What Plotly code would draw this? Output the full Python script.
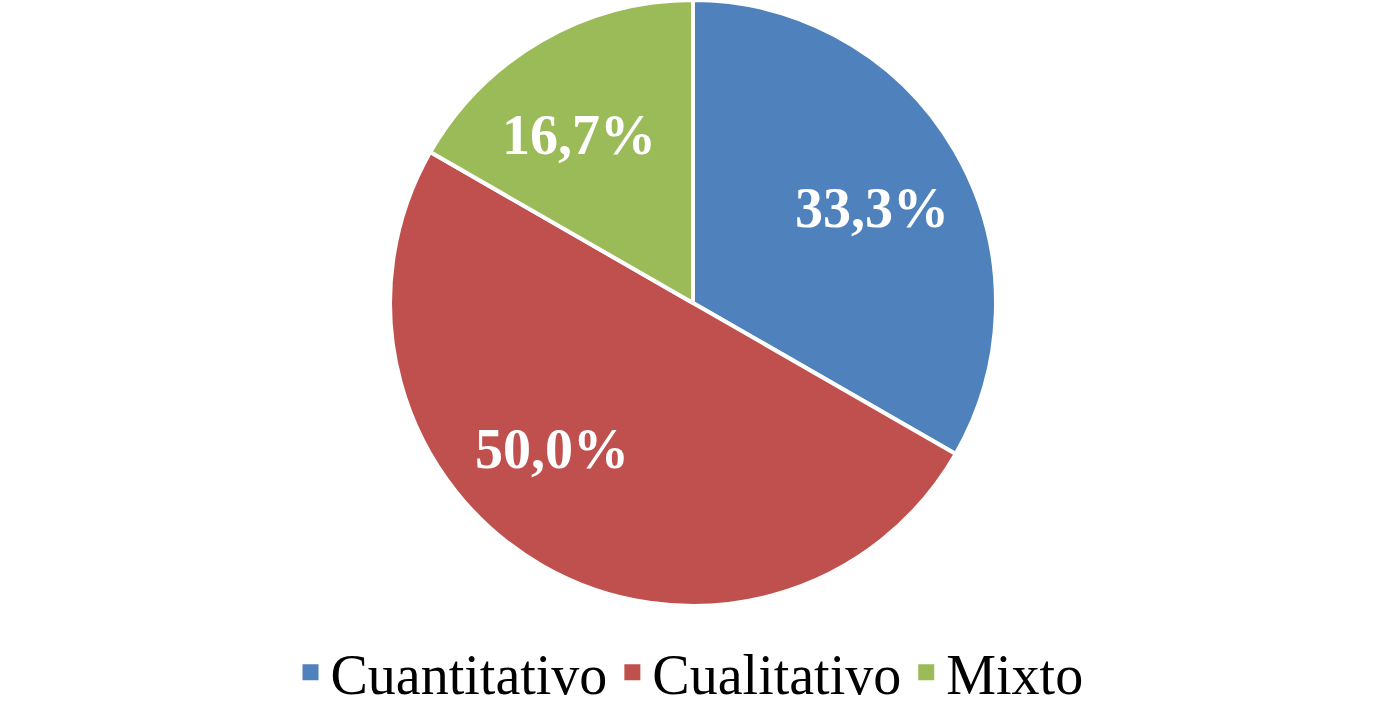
import math

import plotly.graph_objects as go

labels = ["Cuantitativo", "Cualitativo", "Mixto"]
values = [33.3, 50.0, 16.7]
text_labels = ["33,3%", "50,0%", "16,7%"]
colors = ["#4F81BD", "#C0504D", "#9BBB59"]

W, H = 1379, 711
CX, CY, R = 693, 303, 303

fig = go.Figure(
    go.Pie(
        labels=labels,
        values=values,
        textinfo="none",
        sort=False,
        direction="clockwise",
        rotation=0,
        marker=dict(colors=colors, line=dict(color="white", width=4)),
        domain=dict(x=[(CX - R) / W, (CX + R) / W], y=[1 - (CY + R) / H, 1 - (CY - R) / H]),
        hoverinfo="label+percent",
        showlegend=False,
    )
)

# legend entries with bigger square swatches than the pie's own
for name, col in zip(labels, colors):
    fig.add_trace(
        go.Scatter(
            x=[None],
            y=[None],
            mode="markers",
            name=name,
            marker=dict(symbol="square", size=22, color=col),
        )
    )

# data labels at the slice mid-angle, nudged like Excel's best-fit placement
total = sum(values)
start = 0.0
nudge = [2, 14, -4]  # degrees
for val, txt, dn in zip(values, text_labels, nudge):
    mid = math.radians((start + val / 2) / total * 360 + dn)
    start += val
    rr = 0.67 * R
    fig.add_annotation(
        x=(CX + rr * math.sin(mid)) / W,
        y=1 - (CY - rr * math.cos(mid)) / H,
        xref="paper",
        yref="paper",
        xanchor="center",
        yanchor="middle",
        text=txt,
        showarrow=False,
        font=dict(family="Liberation Serif", size=56, color="white", weight="bold"),
    )

fig.update_layout(
    width=W,
    height=H,
    margin=dict(l=0, r=0, t=0, b=0, autoexpand=False),
    paper_bgcolor="white",
    plot_bgcolor="white",
    xaxis=dict(visible=False),
    yaxis=dict(visible=False),
    showlegend=True,
    legend=dict(
        orientation="h",
        x=0.5,
        xanchor="center",
        y=-0.006,
        yanchor="bottom",
        font=dict(family="Liberation Serif", size=56, color="black"),
    ),
)

fig.write_html(
    "out.html",
    config={"displayModeBar": False},
    post_script="document.body.style.margin='0';",
)
